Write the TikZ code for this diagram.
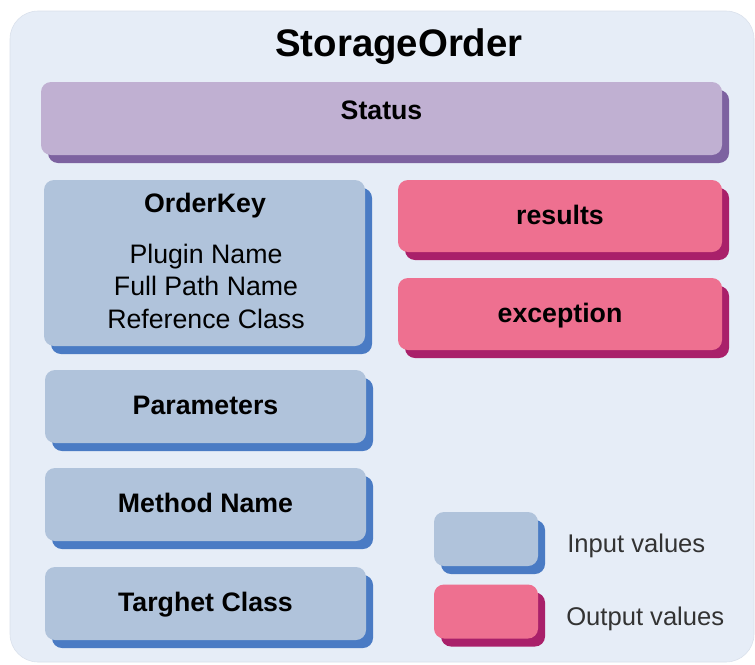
\documentclass[tikz,border=0pt]{standalone}
\usepackage{fontspec}
\setmainfont{Liberation Sans}
\usetikzlibrary{shadows}

\definecolor{panelbg}{HTML}{E6EDF7}
\definecolor{panelline}{HTML}{D9E0EB}
\definecolor{infill}{HTML}{B0C3DB}
\definecolor{inshade}{HTML}{4A7BC4}
\definecolor{outfill}{HTML}{EE7090}
\definecolor{outshade}{HTML}{A9206A}
\definecolor{statfill}{HTML}{C0B0D2}
\definecolor{statshade}{HTML}{7D62A0}
\definecolor{keygray}{HTML}{333333}

\def\pxu{0.025cm}

\tikzset{
  box/.style={rectangle, rounded corners=0.25cm, inner sep=0pt,
    text height=0.4cm, text depth=0pt,
    font=\fontsize{19}{23}\selectfont\bfseries},
  inbox/.style={box, fill=infill,
    drop shadow={shadow xshift=0.175cm, shadow yshift=-0.2cm, fill=inshade, opacity=1}},
  outbox/.style={box, fill=outfill,
    drop shadow={shadow xshift=0.175cm, shadow yshift=-0.2cm, fill=outshade, opacity=1}},
  statbox/.style={box, fill=statfill,
    drop shadow={shadow xshift=0.175cm, shadow yshift=-0.2cm, fill=statshade, opacity=1}},
  keytext/.style={inner sep=0pt, text=keygray, font=\fontsize{18.2}{22}\selectfont}
}

\begin{document}
\begin{tikzpicture}[x=\pxu, y=-\pxu, nodes={font=\fontsize{19}{23}\selectfont}]
  \useasboundingbox (0,0) rectangle (755,664);
  % outer panel
  \fill[panelbg, draw=panelline, rounded corners=0.7cm] (10,11) rectangle (754,662);
  \node[anchor=base, inner sep=0pt, font=\fontsize{27.3}{33}\selectfont\bfseries]
    (title) at (399,56) {StorageOrder};

  \node[statbox, minimum width=681*\pxu, minimum height=73*\pxu,
    text depth=0.375cm, xshift=0.1cm] (status) at (377.5,118.5) {Status};

  % key block with its fields
  \node[inbox, minimum width=321*\pxu, minimum height=166*\pxu] (orderkey) at (204.5,263) {};
  \node[anchor=base, inner sep=0pt, font=\fontsize{19}{23}\selectfont\bfseries]
    (okname) at (205,212) {OrderKey};
  \foreach \y/\name/\txt in {
      263/plugin/Plugin Name,
      295/fullpath/Full Path Name,
      328/refclass/Reference Class
    }
    \node[anchor=base, inner sep=0pt] (\name) at (206,\y) {\txt};

  % remaining inputs
  \foreach \y/\name/\txt in {
      406.5/params/Parameters,
      504.5/method/Method Name,
      603.5/target/Targhet Class
    }
    \node[inbox, minimum width=321*\pxu, minimum height=73*\pxu] (\name) at (205.5,\y) {\txt};

  % outputs
  \foreach \y/\name in {216/results, 314/exception}
    \node[outbox, minimum width=324*\pxu, minimum height=72*\pxu] (\name) at (560,\y) {\name};

  % legend
  \node[inbox, minimum width=104*\pxu, minimum height=54*\pxu] (inkey) at (486,539) {};
  \node[outbox, minimum width=104*\pxu, minimum height=54*\pxu] (outkey) at (486,611.5) {};
  \node[keytext, anchor=base west] (intext) at (567,552) {Input values};
  \node[keytext, anchor=base west] (outtext) at (566,625) {Output values};
\end{tikzpicture}
\end{document}
